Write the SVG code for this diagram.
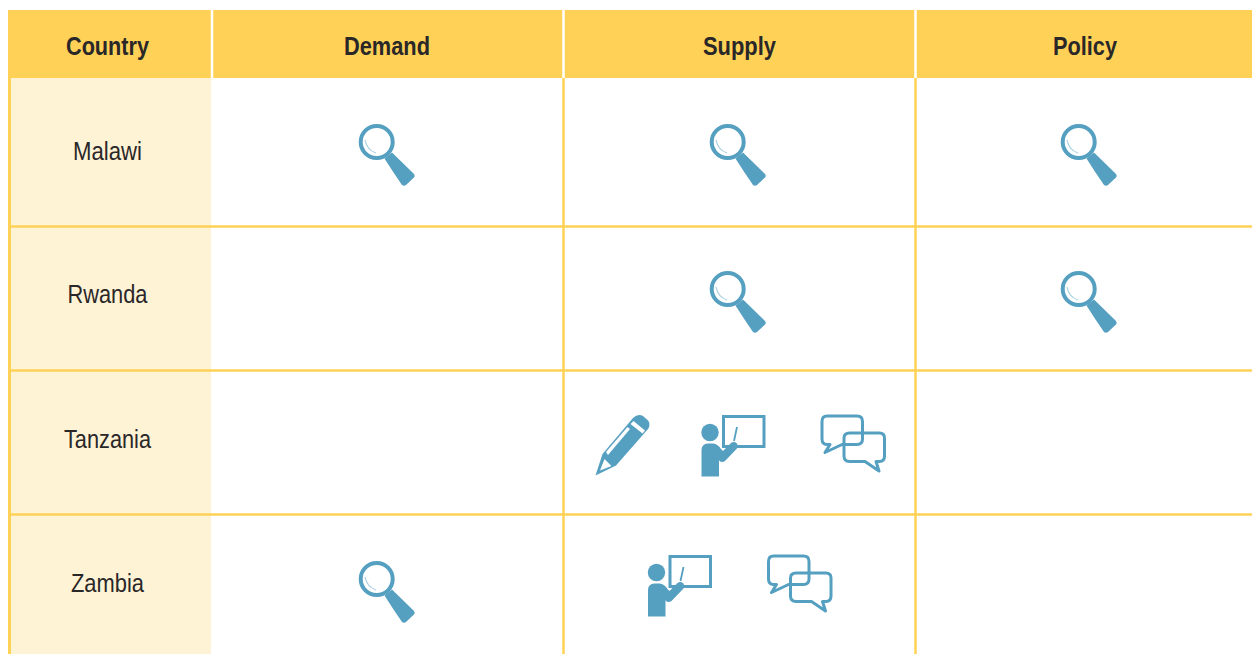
<svg xmlns="http://www.w3.org/2000/svg" width="1252" height="654" viewBox="0 0 1252 654">
<style>
.h{font:bold 25px "Liberation Sans",Arial,sans-serif;fill:#2a2728;text-anchor:middle}
.c{font:25px "Liberation Sans",Arial,sans-serif;fill:#2a2728;text-anchor:middle}
.l{stroke:#ffd257;stroke-width:2.500;fill:none}
.w{stroke:#fff;stroke-width:2.500;fill:none}
.i{fill:#559fc1}
.o{fill:none;stroke:#559fc1;stroke-width:3;stroke-linejoin:round}
</style>
<defs>
<g id="mag">
<circle cx="376.700" cy="142" r="16" fill="#fff" stroke="#559fc1" stroke-width="4"/>
<path d="M365 140Q367 150 376 153" fill="none" stroke="#a9cfe0" stroke-width="1.200"/>
<path class="i" d="M384.500 158.500L392 152.500L414 174Q415.500 176 414 177.500L406 185Q404 186.500 402 185Q393 172 384.500 158.500Z"/>
</g>
<g id="teacher">
<circle class="i" cx="710" cy="432.500" r="8.700"/>
<rect x="723.500" y="416.500" width="40.500" height="30" fill="#fff" stroke="#559fc1" stroke-width="3"/>
<path d="M737 427L734 441" fill="none" stroke="#559fc1" stroke-width="1.800"/>
<path class="i" d="M701.500 476.500V450Q701.500 444 708 443.500H713Q718 444 721 449L723 451L731 443Q734 441 737 443.500Q738.500 446 737 448.500L725 461Q722 463 719.500 461L719 460V476.500Z"/>
</g>
<g id="talk">
<path class="o" d="M827 416H857Q862.500 416 862.500 421.500V439Q862.500 444.500 857 444.500H842L825 452.500L830 444.500H827Q822 444.500 822 439V421.500Q822 416 827 416Z"/>
<path class="o" d="M849.500 433H879.500Q884.500 433 884.500 438V456Q884.500 461.500 879.500 461.500H876L879 471L865 461.500H849.500Q844 461.500 844 456V438Q844 433 849.500 433Z"/>
</g>
</defs>
<g id="table">
<rect x="8" y="10" width="1244" height="68" fill="#ffd257"/>
<rect x="10" y="78" width="201" height="576" fill="#fff3d6"/>
<path class="l" d="M563.500 78V654M915.500 78V654M9 226.500H1252M9 370.500H1252M9 514.500H1252"/>
<path d="M9.500 78V654" stroke="#ffd257" stroke-width="3" fill="none"/>
<path class="w" d="M212 10V78M563.500 10V78M915.500 10V78"/>
</g>
<g id="headers">
<text class="h" x="107.500" y="55" textLength="83" lengthAdjust="spacingAndGlyphs">Country</text>
<text class="h" x="387" y="55" textLength="86" lengthAdjust="spacingAndGlyphs">Demand</text>
<text class="h" x="739.500" y="55" textLength="73" lengthAdjust="spacingAndGlyphs">Supply</text>
<text class="h" x="1085" y="55" textLength="64" lengthAdjust="spacingAndGlyphs">Policy</text>
</g>
<g id="malawi"><text class="c" x="107.500" y="160" textLength="69" lengthAdjust="spacingAndGlyphs">Malawi</text>
<use href="#mag"/><use href="#mag" x="351"/><use href="#mag" x="702"/></g>
<g id="rwanda"><text class="c" x="107.500" y="303" textLength="80" lengthAdjust="spacingAndGlyphs">Rwanda</text>
<use href="#mag" x="351" y="147"/><use href="#mag" x="702" y="147"/></g>
<g id="tanzania"><text class="c" x="107.500" y="448" textLength="87" lengthAdjust="spacingAndGlyphs">Tanzania</text>
<g id="pencil">
<path class="i" d="M595.500 475.500L602.500 454L633 418Q638 413 643 416L648 420.500Q651 424 648 429L616 465.500Z"/>
<path d="M600 470.500L604.500 459L611.500 466Z" fill="#fff"/>
<path d="M606 452L627.500 427L630 429L608 455Z" fill="#fff"/>
<path d="M630.500 424L633.500 421L645 430.500L642.500 433.500Z" fill="#fff"/>
</g>
<use href="#teacher"/><use href="#talk"/></g>
<g id="zambia"><text class="c" x="107.500" y="592" textLength="73" lengthAdjust="spacingAndGlyphs">Zambia</text>
<use href="#mag" y="437"/><use href="#teacher" x="-53.500" y="140"/><use href="#talk" x="-53.500" y="140"/></g>
</svg>
